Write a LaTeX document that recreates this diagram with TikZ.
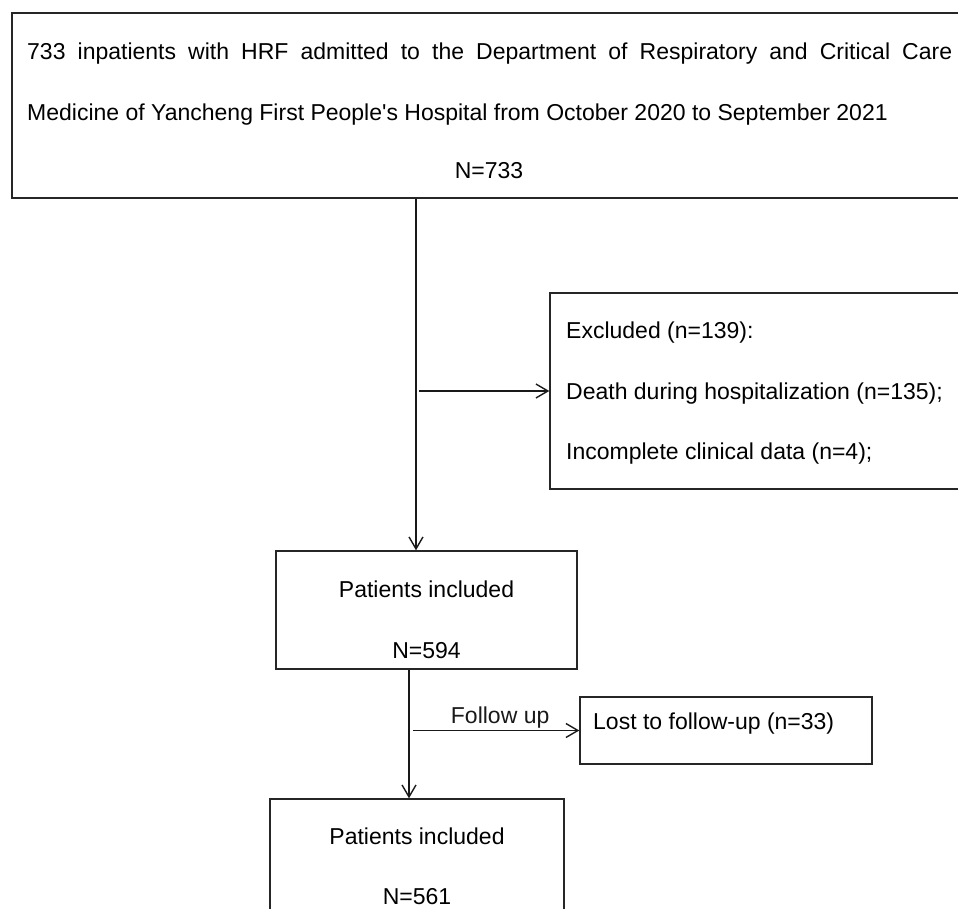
\documentclass[tikz,border=0pt]{standalone}
\usepackage{fontspec}
\setmainfont{Liberation Sans}
\usetikzlibrary{arrows.meta,positioning}
\tikzset{
  box/.style={
    draw=black!85,
    line width=1.4pt,
    rectangle,
    inner sep=0pt
  },
  txt/.style={
    inner sep=0pt,
    font=\fontsize{23}{27}\selectfont
  },
  arrow/.style={
    -{Straight Barb[length=12pt,width=14pt]},
    line width=1.4pt,
    black!90
  }
}

\begin{document}
\begin{tikzpicture}[x=1pt,y=-1pt]
\useasboundingbox (0,0) rectangle (958,909);
\clip (0,0) rectangle (958,909);
% boxes
\node[box,minimum width=958pt,minimum height=185pt] (pop) at (491,105.5) {};
\node[box,minimum width=430pt,minimum height=196pt] (excl) at (765,391) {};
\node[box,minimum width=301pt,minimum height=118pt] (incl1) at (426.5,610) {};
\node[box,minimum width=292pt,minimum height=67pt] (lost) at (726,730.5) {};
\node[box,minimum width=294pt,minimum height=118pt] (incl2) at (417,858) {};
% texts
\node[txt,anchor=base west] (pop1) at (27,60) {\makebox[925pt][s]{733 inpatients with HRF admitted to the Department of Respiratory and Critical Care}};
\node[txt,anchor=base west] (pop2) at (27,121) {Medicine of Yancheng First People\textquotesingle s Hospital from October 2020 to September 2021};
\node[txt,anchor=base] (pop3) at (489,179) {N=733};
\node[txt,anchor=base west] (excl1) at (566,338) {Excluded (n=139):};
\node[txt,anchor=base west] (excl2) at (566,399) {Death during hospitalization (n=135);};
\node[txt,anchor=base west] (excl3) at (566,459) {Incomplete clinical data (n=4);};
\node[txt,anchor=base] (incla) at (426.5,597) {Patients included};
\node[txt,anchor=base] (inclb) at (426.5,658) {N=594};
\node[txt,anchor=base west] (lost1) at (593,729) {Lost to follow-up (n=33)};
\node[txt,anchor=base] (inclc) at (417,844) {Patients included};
\node[txt,anchor=base] (incld) at (417,904) {N=561};
% connectors
\coordinate (s1) at (416,0);
\coordinate (s2) at (409,0);
\draw[arrow] (s1 |- pop.south) -- (s1 |- incl1.north);
\draw[arrow,shorten <=3pt] (s1 |- excl.west) -- (excl.west);
\draw[arrow] (s2 |- incl1.south) -- (s2 |- incl2.north);
\draw[arrow,shorten <=4pt] (s2 |- lost.west) -- node[txt,above,inner sep=2pt,xshift=6pt] (fu) {Follow up} (lost.west);
\end{tikzpicture}
\end{document}
